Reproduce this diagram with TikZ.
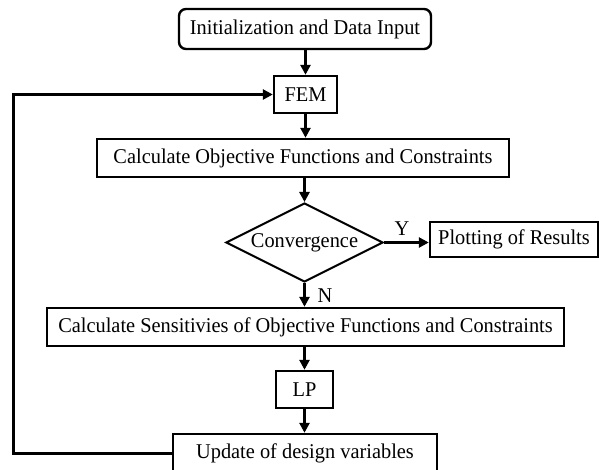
\documentclass[tikz,border=0pt]{standalone}
\usepackage{fontspec}
\setmainfont[FakeStretch=0.97]{Liberation Serif}
\usetikzlibrary{shapes.geometric,arrows.meta}
\begin{document}
\begin{tikzpicture}[x=1pt,y=-1pt,
  every node/.style={font=\fontsize{21}{23}\selectfont},
  box/.style={draw,line width=2.4pt,inner sep=0pt,minimum height=38pt},
  flow/.style={line width=3pt,-{Triangle[length=10pt,width=10pt]}},
  plain/.style={line width=3pt}]
\useasboundingbox (0,0) rectangle (599,470);
\node[box,rounded corners=7pt,minimum width=252pt,minimum height=40pt] (init) at (305,29) {Initialization and Data Input};
\node[box,minimum width=63pt,minimum height=37pt] (fem) at (305.5,94.5) {FEM};
\node[box,minimum width=412pt] (calc) at (303,158) {Calculate Objective Functions and Constraints};
\node[draw,diamond,line width=2pt,inner sep=0pt,aspect=2,minimum width=157pt,minimum height=79pt] (conv) at (304.5,242.5) {Convergence};
\node[box,minimum width=168pt,minimum height=35pt] (plot) at (514,239.5) {Plotting of Results};
\node[box,minimum width=517pt] (sens) at (305.5,327) {Calculate Sensitivies of Objective Functions and Constraints};
\node[box,minimum width=57pt,minimum height=37pt] (lp) at (304.5,389.5) {LP};
\node[box,minimum width=264pt] (upd) at (305,453) {Update of design variables};
\coordinate (lx) at (13,0);
\node (ylab) at (402,229) {Y};
\node (nlab) at (325,296) {N};
\draw[flow] (init.south -| fem.north) -- (fem.north);
\draw[flow] (fem.south) -- (fem.south |- calc.north);
\draw[flow] (conv.north |- calc.south) -- (conv.north);
\draw[flow] (conv.east) -- (conv.east -| plot.west);
\draw[flow] (conv.south) -- (conv.south |- sens.north);
\draw[flow] (lp.north |- sens.south) -- (lp.north);
\draw[flow] (lp.south) -- (lp.south |- upd.north);
\draw[flow] (upd.west) -- (upd.west -| lx) -- (fem.west -| lx) -- (fem.west);
\end{tikzpicture}
\end{document}
